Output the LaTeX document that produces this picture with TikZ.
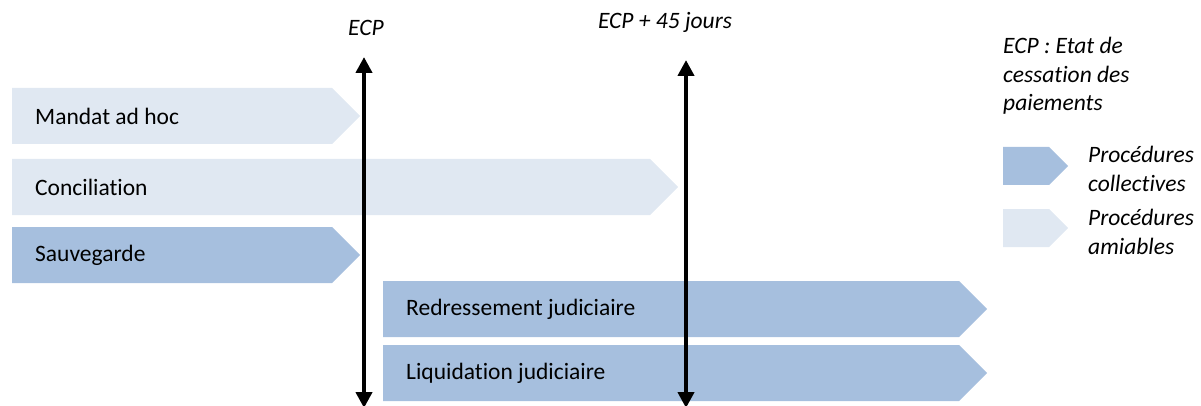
\documentclass[tikz,border=0pt]{standalone}
\usepackage{fontspec}
\setmainfont{Carlito}[Ligatures=NoCommon]
\usetikzlibrary{shapes.symbols,arrows.meta}
\definecolor{collective}{HTML}{A6BFDE}
\definecolor{amiable}{HTML}{E0E8F2}
\newcommand{\bodyfont}{\fontsize{23.5}{28.7}\selectfont}
\begin{document}
\begin{tikzpicture}[x=1pt,y=-1pt,
    proc/.style={signal, signal to=east, signal from=nowhere,
      signal pointer angle=90, draw=none, anchor=west,
      minimum height=56pt, inner xsep=23pt, align=flush left, font=\bodyfont},
    key/.style={signal, signal to=east, signal from=nowhere,
      signal pointer angle=90, draw=none, anchor=west,
      minimum height=38pt, minimum width=65pt, inner sep=0pt},
    note/.style={font=\bodyfont\itshape, inner sep=0pt},
    timeline/.style={line width=4pt, {Triangle[width=16pt,length=16pt]}-{Triangle[width=16pt,length=16pt]}}]
  \useasboundingbox (0,0) rectangle (1201,406);
  \draw
    (12,116) node[proc, fill=amiable, minimum width=348pt, text width=274pt] (mandat) {Mandat ad hoc}
    (12,187) node[proc, fill=amiable, minimum width=666pt, text width=592pt] (concil) {Conciliation}
    (12,255) node[proc, fill=collective, minimum width=348pt, text width=274pt] (sauve) {Sauvegarde}
    (383,309) node[proc, fill=collective, minimum width=604pt, text width=530pt] (redress) {Redressement judiciaire}
    (383,373) node[proc, fill=collective, minimum width=604pt, text width=530pt] (liquid) {Liquidation judiciaire};
  % time marks
  \coordinate (ecp top) at (364,57);
  \coordinate (ecp bot) at (364,408);
  \coordinate (ecp45 top) at (686,60);
  \coordinate (ecp45 bot) at (686,408);
  \draw[timeline] (ecp bot) -- (ecp top);
  \draw[timeline] (ecp45 bot) -- (ecp45 top);
  \node[note] (ecp) at (366,28) {ECP};
  \node[note] (ecp45) at (665,22) {ECP + 45 jours};
  % legend
  \node[note, anchor=north west, align=left] (def) at (1003,37)
    {ECP : Etat de\\cessation des\\paiements};
  \node[key, fill=collective] (coll) at (1003,166) {};
  \node[key, fill=amiable] (amia) at (1003,228) {};
  \node[note, anchor=west, align=left] (coll txt) at (1088,169) {Procédures\\collectives};
  \node[note, anchor=west, align=left] (amia txt) at (1088,232) {Procédures\\amiables};
\end{tikzpicture}
\end{document}
